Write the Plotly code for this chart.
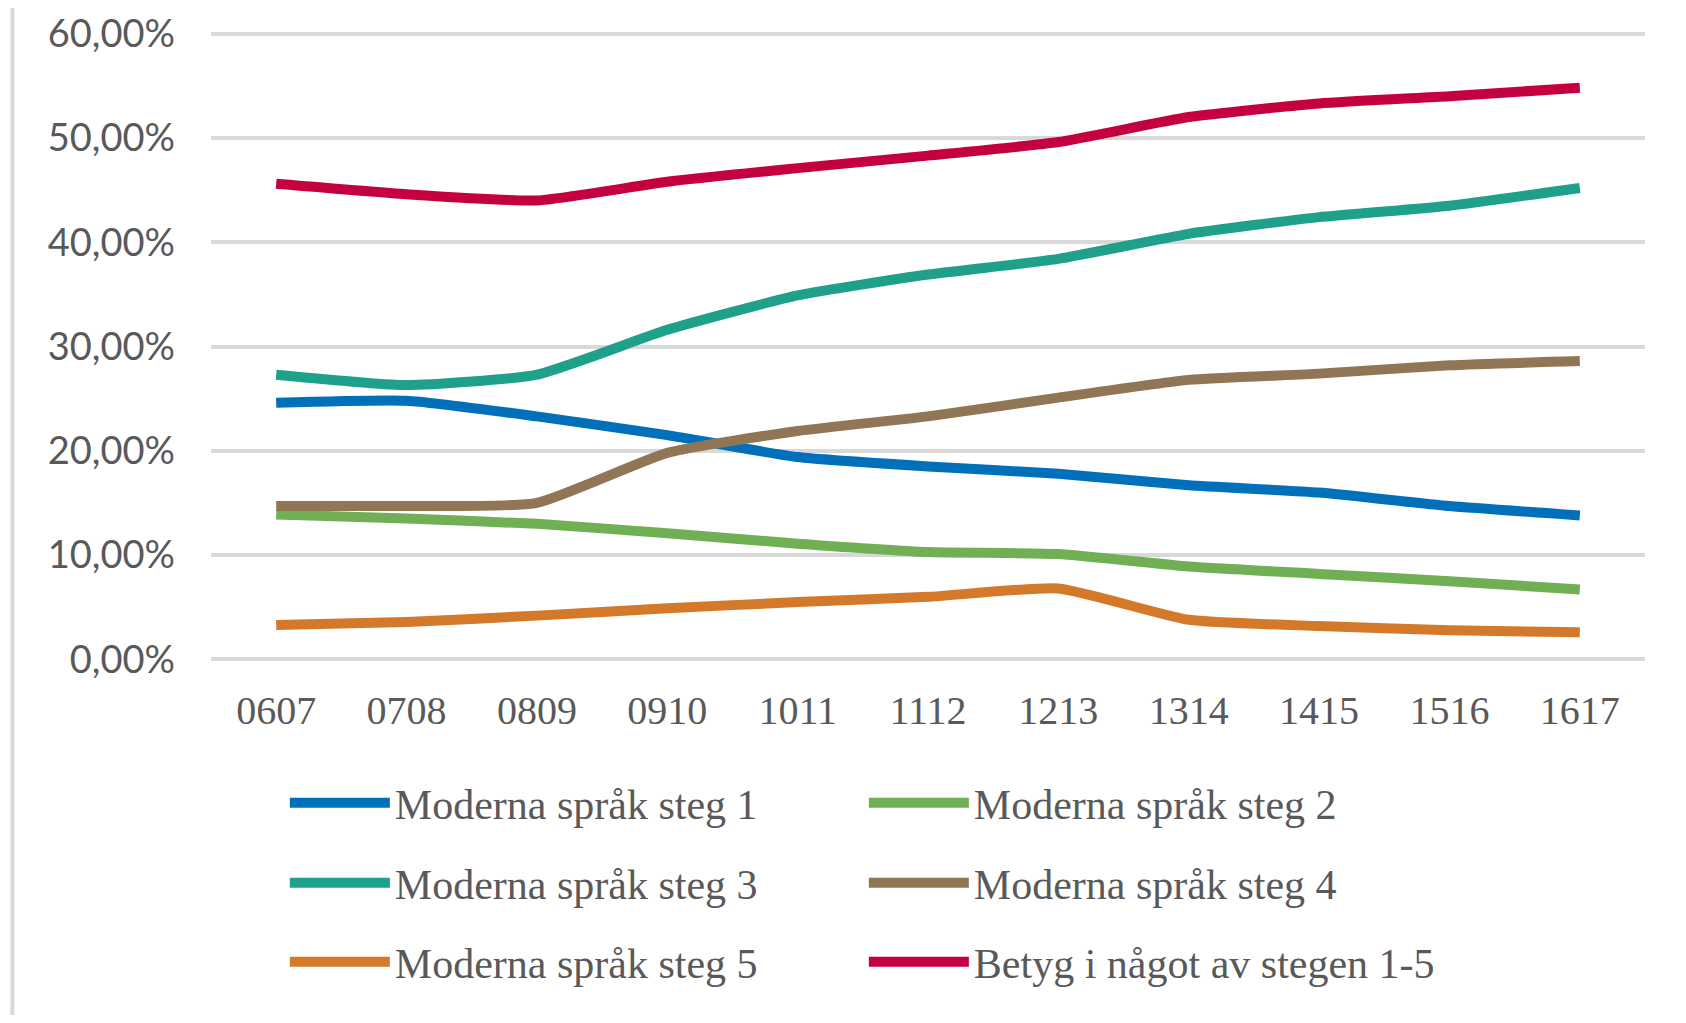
import plotly.graph_objects as go

categories = ["0607", "0708", "0809", "0910", "1011", "1112", "1213", "1314", "1415", "1516", "1617"]

steg1 = [24.6, 24.8, 23.3, 21.5, 19.4, 18.5, 17.8, 16.7, 16.0, 14.7, 13.8]
steg2 = [13.9, 13.5, 13.0, 12.1, 11.1, 10.3, 10.1, 8.9, 8.2, 7.5, 6.7]
steg3 = [27.3, 26.3, 27.3, 31.6, 34.9, 36.9, 38.4, 40.8, 42.4, 43.5, 45.2]
steg4 = [14.7, 14.7, 15.0, 19.8, 21.9, 23.3, 25.1, 26.8, 27.4, 28.2, 28.6]
steg5 = [3.3, 3.6, 4.2, 4.9, 5.5, 6.0, 6.8, 3.8, 3.2, 2.8, 2.6]
betyg = [45.6, 44.6, 44.0, 45.8, 47.1, 48.3, 49.6, 52.0, 53.3, 54.0, 54.8]

names = ["Moderna språk steg 1", "Moderna språk steg 2", "Moderna språk steg 3",
         "Moderna språk steg 4", "Moderna språk steg 5", "Betyg i något av stegen 1-5"]
series = [steg1, steg2, steg3, steg4, steg5, betyg]
colors = ["#0070BA", "#71AF55", "#1EA08A", "#917656", "#D4792A", "#C5003E"]
legend_ids = ["legend", "legend", "legend2", "legend2", "legend3", "legend3"]

fig = go.Figure()
for name, vals, col, lg in zip(names, series, colors, legend_ids):
    fig.add_trace(go.Scatter(
        x=categories, y=vals, name=name, mode="lines",
        line=dict(color=col, width=10, shape="spline", smoothing=0.5),
        legend=lg,
    ))

legend_font = dict(family="Liberation Serif", size=42, color="#595959")
common_legend = dict(orientation="h", x=0.0515, xanchor="left", yanchor="middle",
                     entrywidth=464, entrywidthmode="pixels", itemwidth=100,
                     font=legend_font, bgcolor="rgba(0,0,0,0)", traceorder="normal")

# page body has an 8px margin; figure is sized/positioned to compensate
fig.update_layout(
    width=1670, height=1007,
    margin=dict(l=203, r=33, t=24, b=354, autoexpand=False),
    paper_bgcolor="white", plot_bgcolor="white",
    separators=",.",
    showlegend=True,
    legend=dict(y=-0.2255, **common_legend),
    legend2=dict(y=-0.3527, **common_legend),
    legend3=dict(y=-0.4783, **common_legend),
    xaxis=dict(
        type="category", range=[-0.5, 10.5],
        showgrid=False, showline=False, zeroline=False, ticks="",
        tickfont=dict(family="Liberation Serif", size=40, color="#595959"),
        ticklabelstandoff=22,
    ),
    yaxis=dict(
        range=[-0.15, 60.15], dtick=10, tickformat=".2f", ticksuffix="%",
        showgrid=True, gridcolor="#D9D9D9", gridwidth=3.5,
        zeroline=False, showline=False, ticks="",
        tickfont=dict(family="Lato", size=38, color="#595959"),
        ticklabelstandoff=35,
    ),
    shapes=[dict(type="line", xref="paper", yref="paper",
                 x0=-0.1385, x1=-0.1385, y0=-1, y1=1.1,
                 line=dict(color="#D9D9D9", width=4))],
)

fig.write_html("out.html")
